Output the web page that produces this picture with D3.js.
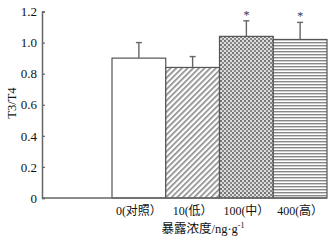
<!DOCTYPE html>
<html><head><meta charset="utf-8">
<script src="https://cdn.jsdelivr.net/npm/d3@7"></script>
<style>body{margin:0;background:#fff}svg{display:block}</style>
</head><body>
<script>
const categories = ["0(对照）", "10(低）", "100(中）", "400(高）"];
const values = [0.90, 0.84, 1.04, 1.02];
const errors = [0.10, 0.07, 0.10, 0.11];
const significant = [false, false, true, true];
const yTicks = [0, 0.2, 0.4, 0.6, 0.8, 1.0, 1.2];
const yTickLabels = ["0", "0.2", "0.4", "0.6", "0.8", "1.0", "1.2"];
const yLabel = "T3/T4";
const xLabel = "暴露浓度/ng·g";

const W = 336, H = 244;
const svg = d3.select("body").append("svg").attr("width", W).attr("height", H);
const defs = svg.append("defs");
const font = "'Liberation Serif','Noto Sans CJK SC',serif";
const axisColor = "#666";

// patterns
const p1 = defs.append("pattern").attr("id","diag").attr("patternUnits","userSpaceOnUse")
  .attr("width",4).attr("height",4).attr("patternTransform","rotate(45)");
p1.append("rect").attr("width",4).attr("height",4).attr("fill","#fff");
p1.append("rect").attr("x",0).attr("width",1.6).attr("height",4).attr("fill","#888");

const p2 = defs.append("pattern").attr("id","check").attr("patternUnits","userSpaceOnUse")
  .attr("width",4).attr("height",4);
p2.append("rect").attr("width",4).attr("height",4).attr("fill","#ddd");
p2.append("rect").attr("x",0).attr("y",0).attr("width",2).attr("height",2).attr("fill","#777");
p2.append("rect").attr("x",2).attr("y",2).attr("width",2).attr("height",2).attr("fill","#888");

const p3 = defs.append("pattern").attr("id","horiz").attr("patternUnits","userSpaceOnUse")
  .attr("width",4).attr("height",3);
p3.append("rect").attr("width",4).attr("height",3).attr("fill","#fff");
p3.append("rect").attr("y",0).attr("width",4).attr("height",1.4).attr("fill","#888");

const fills = ["#fff", "url(#diag)", "url(#check)", "url(#horiz)"];

const y = d3.scaleLinear().domain([0, 1.2]).range([198, 11.5]);
const x = d3.scaleBand().domain(categories).range([112, 327]).padding(0);
const axisLeft = 42;

// bars
svg.selectAll("rect.bar").data(values).enter().append("rect")
  .attr("class","bar")
  .attr("x",(d,i)=>x(categories[i]))
  .attr("width",x.bandwidth())
  .attr("y",d=>y(d))
  .attr("height",d=>y(0)-y(d))
  .attr("fill",(d,i)=>fills[i])
  .attr("stroke","#555").attr("stroke-width",1.2);

// error bars
const eg = svg.append("g").attr("stroke","#666").attr("stroke-width",1.4);
values.forEach((v,i)=>{
  const cx = x(categories[i]) + x.bandwidth()/2;
  eg.append("line").attr("x1",cx).attr("x2",cx).attr("y1",y(v)).attr("y2",y(v+errors[i]));
  eg.append("line").attr("x1",cx-3).attr("x2",cx+3).attr("y1",y(v+errors[i])).attr("y2",y(v+errors[i]));
  if (significant[i]) {
    svg.append("text").attr("x",cx).attr("y",y(v+errors[i])-2)
      .attr("text-anchor","middle").attr("font-family",font).attr("font-size",12)
      .attr("fill","#334").text("*");
  }
});

// y axis
const ya = svg.append("g").attr("transform",`translate(${axisLeft},0)`)
  .call(d3.axisLeft(y).tickValues(yTicks).tickFormat((d,i)=>yTickLabels[i]).tickSize(-3).tickPadding(5));
ya.select(".domain").attr("stroke",axisColor).attr("stroke-width",1.5);
ya.selectAll(".tick line").attr("stroke",axisColor).attr("stroke-width",1.2);
ya.selectAll(".tick text").attr("font-family",font).attr("font-size",13).attr("fill","#111");

// x axis line
svg.append("line").attr("x1",axisLeft).attr("x2",327).attr("y1",y(0)).attr("y2",y(0))
  .attr("stroke",axisColor).attr("stroke-width",1.5);

// x labels
svg.selectAll("text.xl").data(categories).enter().append("text").attr("class","xl")
  .attr("x",d=>x(d)+x.bandwidth()/2).attr("y",215)
  .attr("text-anchor","middle").attr("font-family",font).attr("font-size",12).attr("fill","#111")
  .text(d=>d);

// x title
const xt = svg.append("text").attr("x",203).attr("y",233).attr("text-anchor","middle")
  .attr("font-family",font).attr("font-size",12.5).attr("fill","#111");
xt.append("tspan").text(xLabel);
xt.append("tspan").attr("dy",-5).attr("font-size",8).text("-1");

// y title
svg.append("text").attr("transform","translate(16,103) rotate(-90)")
  .attr("text-anchor","middle").attr("font-family",font).attr("font-size",12.5).attr("fill","#111")
  .text(yLabel);
</script>
</body></html>
